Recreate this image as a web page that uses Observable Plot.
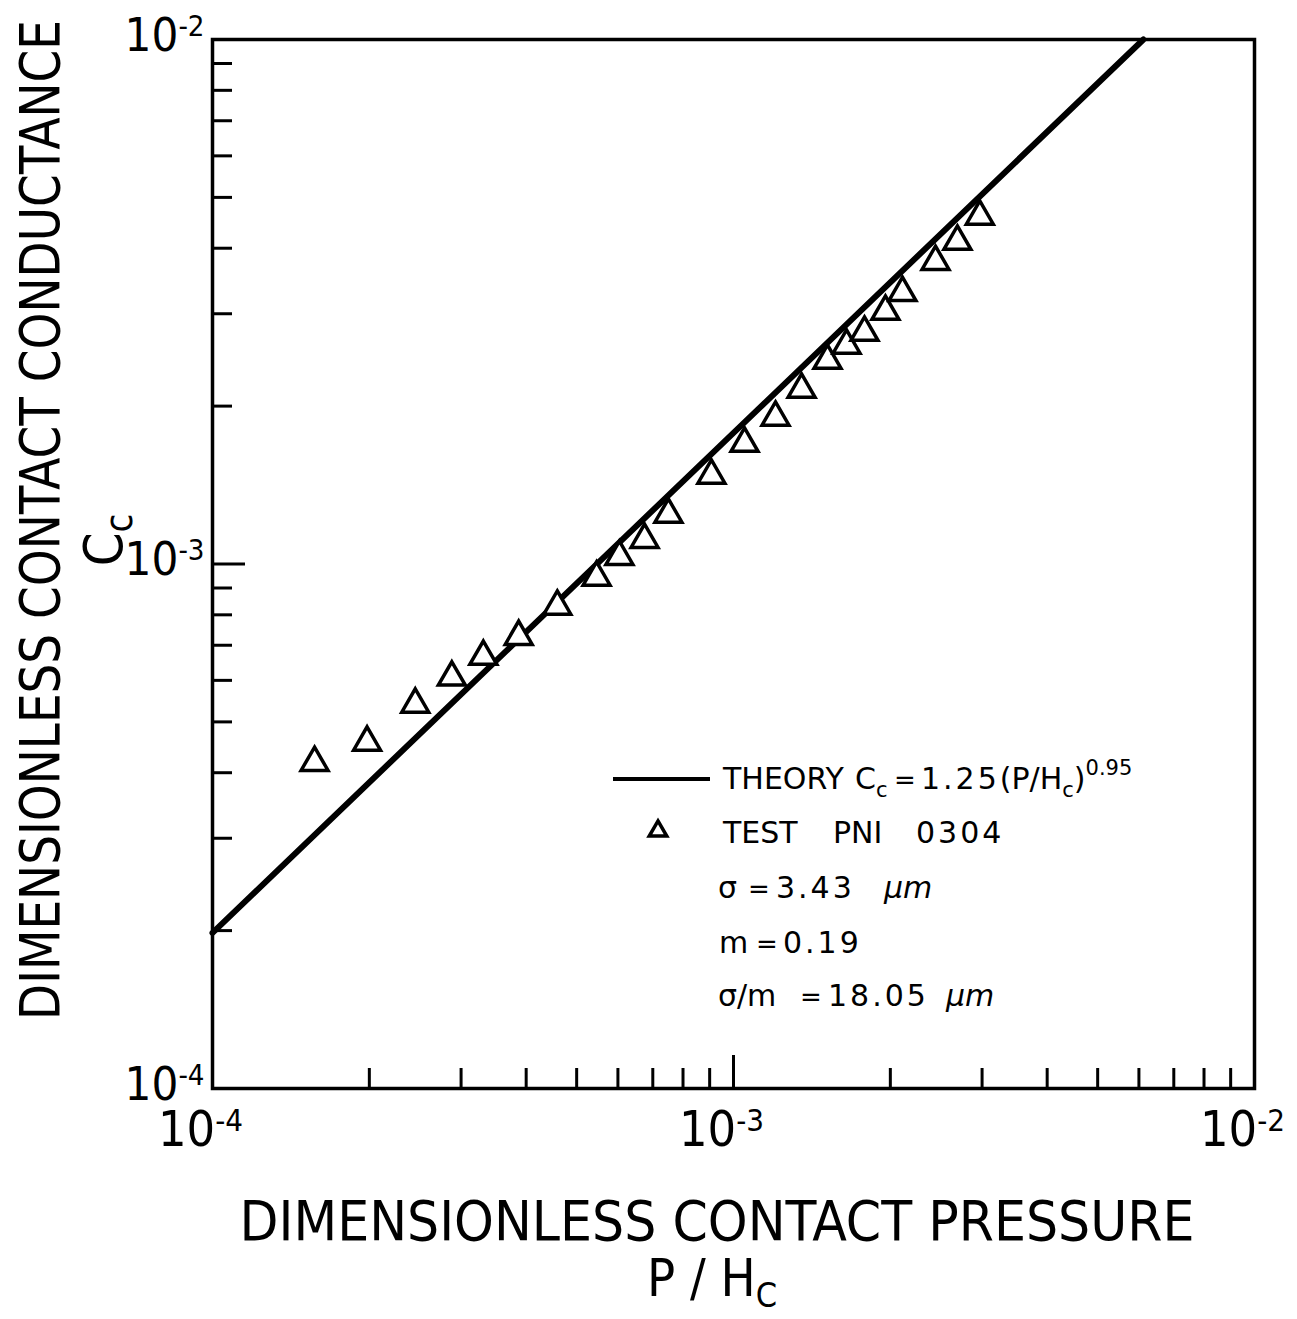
<!DOCTYPE html>
<html>
<head>
<meta charset="utf-8">
<script src="https://cdn.jsdelivr.net/npm/d3@7"></script>
<script src="https://cdn.jsdelivr.net/npm/@observablehq/plot@0.6"></script>
<style>
  html, body { margin: 0; padding: 0; background: #fff; }
  svg { display: block; }
</style>
</head>
<body>
<div id="chart"></div>
<script>
// ---- data ----
const pressure = [1.57e-4, 1.98e-4, 2.45e-4, 2.88e-4, 3.31e-4, 3.87e-4, 4.59e-4, 5.46e-4,
  6.04e-4, 6.75e-4, 7.50e-4, 9.07e-4, 1.050e-3, 1.204e-3, 1.351e-3, 1.515e-3, 1.648e-3,
  1.784e-3, 1.957e-3, 2.11e-3, 2.442e-3, 2.69e-3, 2.97e-3];
const conductance = [4.18e-4, 4.57e-4, 5.40e-4, 6.08e-4, 6.66e-4, 7.27e-4, 8.30e-4, 9.43e-4,
  1.033e-3, 1.113e-3, 1.243e-3, 1.475e-3, 1.697e-3, 1.903e-3, 2.151e-3, 2.443e-3, 2.61e-3,
  2.763e-3, 3.03e-3, 3.29e-3, 3.77e-3, 4.12e-3, 4.60e-3];
const theoryP = [1e-4, 6.12e-3];
const theoryC = [1.98e-4, 1e-2];
const majorTicks = [1e-4, 1e-3, 1e-2];
const minorTicks = [2e-4, 3e-4, 4e-4, 5e-4, 6e-4, 7e-4, 8e-4, 9e-4,
  2e-3, 3e-3, 4e-3, 5e-3, 6e-3, 7e-3, 8e-3, 9e-3];
const tickExponents = ["-4", "-3", "-2"];
const xTitle = "DIMENSIONLESS CONTACT PRESSURE";
const yTitle = "DIMENSIONLESS CONTACT CONDUCTANCE";
// legend pieces: [text, style] ; style: n normal, b subscript, p superscript, i italic, e equals sign
const legendTheory = [["THEORY", "n"], ["C", "n"], ["c", "b"], ["=", "e"], ["1.25", "n"], ["(P/H", "n"], ["c", "b"], [")", "n"], ["0.95", "p"]];
const legendTest = ["TEST", "PNI", "0304"];
const legendSigma = [["\u03C3", "n"], ["=", "e"], ["3.43", "n"], ["\u03BCm", "i"]];
const legendM = [["m", "n"], ["=", "e"], ["0.19", "n"]];
const legendRatio = [["\u03C3/m", "n"], ["=", "e"], ["18.05", "n"], ["\u03BCm", "i"]];

const tests = pressure.map((p, i) => ({p, c: conductance[i]}));
const theory = theoryP.map((p, i) => ({p, c: theoryC[i]}));
const labelFor = d => {
  const k = majorTicks.findIndex(t => Math.abs(Math.log10(t) - Math.log10(d)) < 1e-6);
  return k < 0 ? "" : "10|" + tickExponents[k];
};

const FONT = "'DejaVu Sans Condensed', 'Liberation Sans Narrow', 'DejaVu Sans', sans-serif";
const LFONT = "'DejaVu Sans', sans-serif";
const W = 1297, H = 1319;

const plot = Plot.plot({
  width: W,
  height: H,
  marginLeft: 212,
  marginRight: 43,
  marginTop: 39,
  marginBottom: 231,
  style: {background: "#fff", color: "#000", fontFamily: FONT},
  x: {type: "log", domain: [1e-4, 1e-2]},
  y: {type: "log", domain: [1e-4, 1e-2]},
  marks: [
    Plot.axisX({ticks: minorTicks, tickSize: -20, tickFormat: () => "", strokeWidth: 3, label: null}),
    Plot.axisX({ticks: majorTicks, tickSize: -33, tickFormat: () => "", strokeWidth: 3, label: null}),
    Plot.axisX({ticks: majorTicks, tickSize: 0, tickPadding: 22, fontSize: 50, dx: -12,
      tickFormat: labelFor, label: null}),
    Plot.axisY({ticks: minorTicks, tickSize: -20, tickFormat: () => "", strokeWidth: 3, label: null}),
    Plot.axisY({ticks: majorTicks, tickSize: 0, tickPadding: 8, fontSize: 47, dy: -4,
      tickFormat: labelFor, label: null}),
    Plot.axisY({ticks: majorTicks, tickSize: -33, tickFormat: () => "", strokeWidth: 3, label: null}),
    Plot.frame({stroke: "#000", strokeWidth: 3.5}),
    Plot.line(theory, {x: "p", y: "c", stroke: "#000", strokeWidth: 6}),
    Plot.dot(tests, {x: "p", y: "c", symbol: "triangle", r: 10, stroke: "#000", strokeWidth: 3.5, fill: "#fff"})
  ]
});

document.getElementById("chart").appendChild(plot);

// superscripts on tick labels
const svg = d3.select(plot);
svg.selectAll("text").each(function () {
  const t = d3.select(this);
  const s = this.textContent;
  if (s && s.includes("|")) {
    const [base, exp] = s.split("|");
    t.text(base);
    t.append("tspan").attr("dy", "-0.5em").attr("font-size", "0.62em").text(exp);
  }
});

// axis titles
const titles = svg.append("g").attr("font-family", FONT).attr("fill", "#000");
titles.append("text")
  .attr("x", 717).attr("y", 1240)
  .attr("text-anchor", "middle").attr("font-size", 56)
  .attr("textLength", 955).attr("lengthAdjust", "spacingAndGlyphs")
  .text(xTitle);
const xSub = titles.append("text")
  .attr("x", 712).attr("y", 1296)
  .attr("text-anchor", "middle").attr("font-size", 52);
xSub.append("tspan").text("P / H");
xSub.append("tspan").attr("dy", 11).attr("font-size", 34).text("C");

titles.append("text")
  .attr("transform", "translate(59,520) rotate(-90) scale(1,1.12)")
  .attr("text-anchor", "middle").attr("font-size", 49)
  .attr("textLength", 1000).attr("lengthAdjust", "spacingAndGlyphs")
  .text(yTitle);
const ySub = titles.append("text")
  .attr("transform", "translate(122,540) rotate(-90)")
  .attr("text-anchor", "middle").attr("font-size", 54);
ySub.append("tspan").text("C");
ySub.append("tspan").attr("dy", 10).attr("font-size", 38).text("c");

// legend
const lg = svg.append("g").attr("font-family", LFONT).attr("font-size", 30)
  .attr("fill", "#000").attr("text-anchor", "start");
function richLine(pieces, xs, y) {
  const t = lg.append("text").attr("y", y);
  let shift = 0;
  pieces.forEach(([s, st], i) => {
    const sp = t.append("tspan").text(s);
    if (xs[i] != null) sp.attr("x", xs[i]);
    const target = st === "b" ? 8 : st === "p" ? -14 : 0;
    if (target !== shift) { sp.attr("dy", target - shift); shift = target; }
    if (st === "b" || st === "p") sp.attr("font-size", 21);
    if (st === "e") sp.attr("font-size", 26);
    if (st === "i") sp.attr("font-style", "italic");
    if (/[0-9]/.test(s) && st === "n") sp.attr("letter-spacing", 3);
  });
}
lg.append("line").attr("x1", 613).attr("x2", 710).attr("y1", 779).attr("y2", 779)
  .attr("stroke", "#000").attr("stroke-width", 4);
richLine(legendTheory, [723, 855, null, 894, 921, null], 789);
lg.append("path").attr("d", d3.symbol(d3.symbolTriangle2, 220)())
  .attr("transform", "translate(658,831)")
  .attr("fill", "none").attr("stroke", "#000").attr("stroke-width", 3.5);
richLine(legendTest.map(s => [s, "n"]), [723, 833, 916], 843);
richLine(legendSigma, [718, 748, 776, 884], 898);
richLine(legendM, [719, 756, 783], 953);
richLine(legendRatio, [718, 800, 828, 946], 1006);
</script>
</body>
</html>
